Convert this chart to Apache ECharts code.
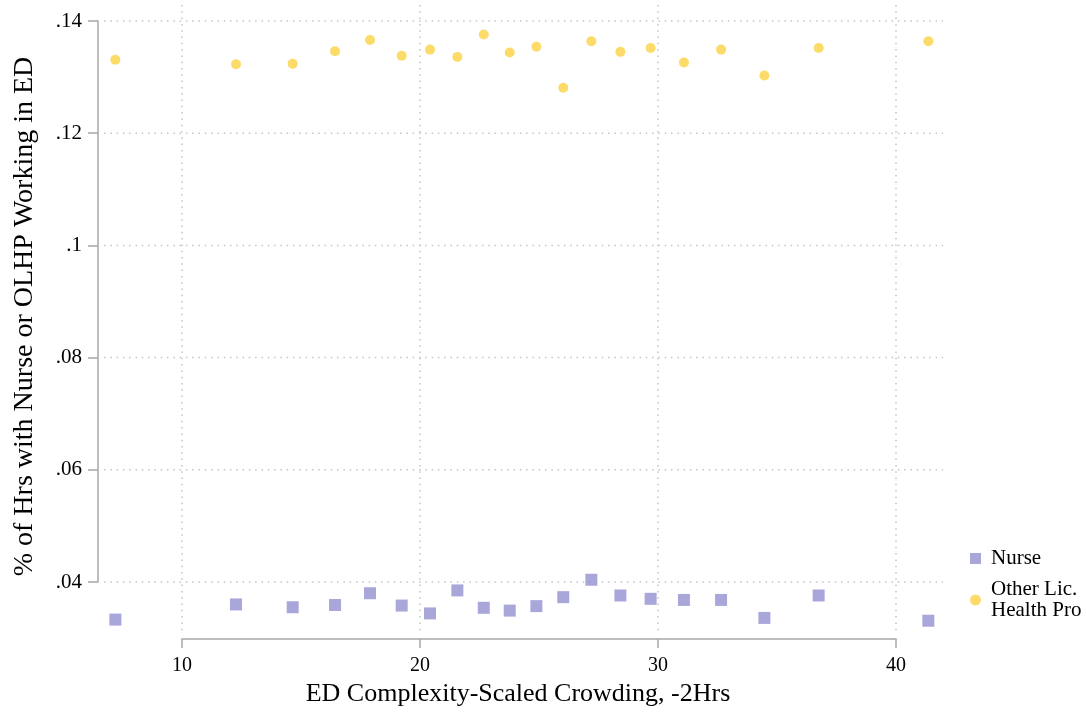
<!DOCTYPE html>
<html>
<head>
<meta charset="utf-8">
<script src="https://cdn.jsdelivr.net/npm/echarts@6/dist/echarts.min.js"></script>
<style>
html,body{margin:0;padding:0;background:#fff;}
#chart{width:1086px;height:719px;}
</style>
</head>
<body>
<div id="chart"></div>
<script>
// ---- data ----
const xValues = [7.20, 12.27, 14.65, 16.43, 17.90, 19.23, 20.42, 21.57, 22.68, 23.77, 24.89, 26.02, 27.20, 28.42, 29.69, 31.09, 32.65, 34.47, 36.75, 41.36];
const nurse   = [0.0333, 0.0360, 0.0355, 0.0359, 0.0380, 0.0358, 0.0344, 0.0385, 0.0354, 0.0349, 0.0357, 0.0373, 0.0404, 0.0376, 0.0370, 0.0368, 0.0368, 0.0336, 0.0376, 0.0331];
const olhp    = [0.1331, 0.1323, 0.1324, 0.1346, 0.1366, 0.1338, 0.1349, 0.1336, 0.1376, 0.1344, 0.1354, 0.1281, 0.1364, 0.1345, 0.1352, 0.1326, 0.1349, 0.1303, 0.1352, 0.1364];
const xTicks = [10, 20, 30, 40];
const xTickLabels = ['10', '20', '30', '40'];
const yTicks = [0.04, 0.06, 0.08, 0.10, 0.12, 0.14];
const yTickLabels = ['.04', '.06', '.08', '.1', '.12', '.14'];
const seriesNames = ['Nurse', 'Other Lic.\nHealth Pro'];
const xTitle = 'ED Complexity-Scaled Crowding, -2Hrs';
const yTitle = '% of Hrs with Nurse or OLHP Working in ED';

// ---- styling ----
const FONT = 'Liberation Serif, Times New Roman, serif';
const AXIS_COLOR = '#a8a8a8';
const GRID_COLOR = '#c4c4c4';
const NURSE_COLOR = '#9491D0';
const OLHP_COLOR = '#FBD244';
// gridline extension beyond tick range (px)
const EXT = { left: 78, right: 47, top: 16, bottom: 53 };

function labelFor(ticks, labels, v) {
  for (let i = 0; i < ticks.length; i++) {
    if (Math.abs(ticks[i] - v) < 1e-9) return labels[i];
  }
  return '';
}

const gridData = [];
xTicks.forEach(v => gridData.push([0, v]));
yTicks.forEach(v => gridData.push([1, v]));

const chart = echarts.init(document.getElementById('chart'), null, { renderer: 'canvas' });
chart.setOption({
  backgroundColor: '#ffffff',
  animation: false,
  grid: { left: 182, right: 190, top: 21, bottom: 137 },
  xAxis: {
    type: 'value',
    min: xTicks[0], max: xTicks[xTicks.length - 1], interval: 10,
    offset: 57,
    axisLine: { show: true, lineStyle: { color: AXIS_COLOR, width: 1.5 } },
    axisTick: { show: true, length: 9, lineStyle: { color: AXIS_COLOR, width: 1.5 } },
    axisLabel: {
      margin: 17, color: '#000', fontFamily: FONT, fontSize: 20,
      formatter: v => labelFor(xTicks, xTickLabels, v)
    },
    splitLine: { show: false },
    name: xTitle, nameLocation: 'middle', nameGap: 40,
    nameTextStyle: { color: '#000', fontFamily: FONT, fontSize: 26, padding: [0, 42, 0, 0] }
  },
  yAxis: {
    type: 'value',
    min: yTicks[0], max: yTicks[yTicks.length - 1], interval: 0.02,
    offset: 84,
    axisLine: { show: true, lineStyle: { color: AXIS_COLOR, width: 1.5 } },
    axisTick: { show: true, length: 10, lineStyle: { color: AXIS_COLOR, width: 1.5 } },
    axisLabel: {
      margin: 16, color: '#000', fontFamily: FONT, fontSize: 21,
      formatter: v => labelFor(yTicks, yTickLabels, v)
    },
    splitLine: { show: false },
    name: yTitle, nameLocation: 'middle', nameGap: 59,
    nameTextStyle: { color: '#000', fontFamily: FONT, fontSize: 28, padding: [0, 30, 0, 0] }
  },
  legend: {
    orient: 'vertical',
    left: 965, top: 543,
    itemWidth: 11, itemHeight: 11, itemGap: 10,
    textStyle: { color: '#000', fontFamily: FONT, fontSize: 21, lineHeight: 21, padding: [0, 0, 0, 5] },
    data: [
      { name: seriesNames[0], icon: 'rect' },
      { name: seriesNames[1], icon: 'circle' }
    ]
  },
  series: [
    {
      type: 'custom',
      silent: true,
      z: 1,
      clip: false,
      data: gridData,
      renderItem: function (params, api) {
        const kind = api.value(0), v = api.value(1);
        let x1, y1, x2, y2;
        if (kind === 0) {
          const pTop = api.coord([v, yTicks[yTicks.length - 1]]);
          const pBot = api.coord([v, yTicks[0]]);
          x1 = x2 = pTop[0];
          y1 = pTop[1] - EXT.top; y2 = pBot[1] + EXT.bottom;
        } else {
          const pL = api.coord([xTicks[0], v]);
          const pR = api.coord([xTicks[xTicks.length - 1], v]);
          y1 = y2 = pL[1];
          x1 = pL[0] - EXT.left; x2 = pR[0] + EXT.right;
        }
        return {
          type: 'line',
          shape: { x1, y1, x2, y2 },
          style: { stroke: GRID_COLOR, lineWidth: 1.5, lineDash: [1.5, 4.8] }
        };
      }
    },
    {
      name: seriesNames[0],
      type: 'scatter',
      clip: false,
      z: 3,
      symbol: 'rect',
      symbolSize: 12,
      itemStyle: { color: NURSE_COLOR },
      data: xValues.map((x, i) => [x, nurse[i]])
    },
    {
      name: seriesNames[1],
      type: 'scatter',
      clip: false,
      z: 3,
      symbol: 'circle',
      symbolSize: 10,
      itemStyle: { color: OLHP_COLOR },
      data: xValues.map((x, i) => [x, olhp[i]])
    }
  ]
});
</script>
</body>
</html>
